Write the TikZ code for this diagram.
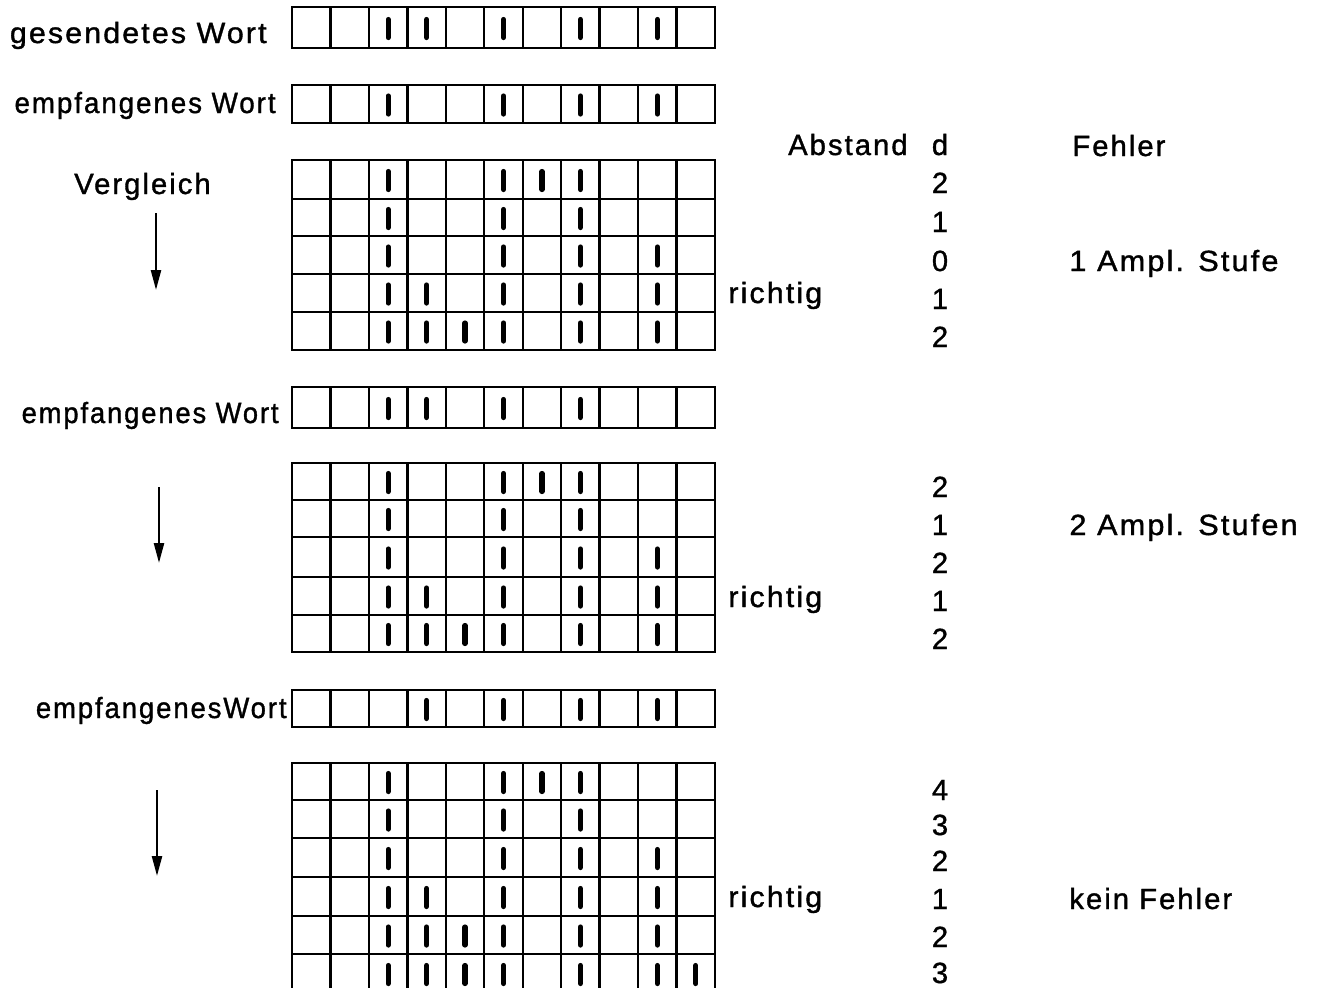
\documentclass[tikz,border=0pt]{standalone}
\usepackage{fontspec}
\usepackage{graphicx}
\setmainfont{Liberation Sans}[LetterSpace=7,FakeBold=1.2]
\usetikzlibrary{arrows.meta}
\newcommand\wrow[3]{%
  \draw[gridline] (292,#1) rectangle (715,#2);
  \foreach \i in {1,...,10} {\draw[gridline] ({292+\i*38.4545},#1) -- ({292+\i*38.4545},#2);}
  \foreach \c in {#3} {\draw[bar] ({292+(\c-0.5)*38.4545},{(#1+#2)/2-8}) -- ({292+(\c-0.5)*38.4545},{(#1+#2)/2+10});}
}
\begin{document}
\begin{tikzpicture}[x=0.5pt,y=-0.5pt,
  gridline/.style={line width=1.15pt},
  bar/.style={line width=2.6pt, line cap=round},
  lbl/.style={inner sep=0pt, font=\fontsize{14.6}{17}\selectfont},
  flow/.style={line width=1.2pt, -{Triangle[width=5pt,length=10pt]}}]
\useasboundingbox (0,0) rectangle (1317,987);
\clip (0,0) rectangle (1317,987);
\fill[white] (0,0) rectangle (1317,987);

% words
\wrow{7}{48}{3,4,6,8,10}
\wrow{85}{123}{3,6,8,10}
% grid 1
\wrow{160}{199}{3,6,7,8}
\wrow{199}{236}{3,6,8}
\wrow{236}{274}{3,6,8,10}
\wrow{274}{312}{3,4,6,8,10}
\wrow{312}{350}{3,4,5,6,8,10}
% second received word
\wrow{387}{428}{3,4,6,8}
% grid 2
\wrow{463}{500}{3,6,7,8}
\wrow{500}{537}{3,6,8}
\wrow{537}{577}{3,6,8,10}
\wrow{577}{615}{3,4,6,8,10}
\wrow{615}{652}{3,4,5,6,8,10}
% third received word
\wrow{690}{727}{4,6,8,10}
% grid 3
\wrow{763}{800}{3,6,7,8}
\wrow{800}{838}{3,6,8}
\wrow{838}{877}{3,6,8,10}
\wrow{877}{916}{3,4,6,8,10}
\wrow{916}{954}{3,4,5,6,8,10}
\wrow{954}{993}{3,4,5,6,8,10,11}

% left labels
\node[lbl, anchor=base east] (sent) at (267,43) {\scalebox{1.04}[1]{gesendetes Wort}};
\node[lbl, anchor=base east] (recv1) at (276,113) {\scalebox{0.95}[1]{empfangenes Wort}};
\node[lbl, anchor=base] (cmp) at (142.5,194) {Vergleich};
\node[lbl, anchor=base east] (recv2) at (279,423) {\scalebox{0.935}[1]{empfangenes Wort}};
\node[lbl, anchor=base east] (recv3) at (287,718) {\scalebox{0.94}[1]{empfangenesWort}};

% arrows
\coordinate (a1s) at (156,213); \coordinate (a1e) at (156,290);
\coordinate (a2s) at (159,487); \coordinate (a2e) at (159,563);
\coordinate (a3s) at (157,790); \coordinate (a3e) at (157,876);
\draw[flow] (a1s) -- (a1e);
\draw[flow] (a2s) -- (a2e);
\draw[flow] (a3s) -- (a3e);

% headings
\node[lbl, anchor=base east] (abst) at (908,155) {Abstand};
\node[lbl, anchor=base] (dhead) at (940,155) {d};
\node[lbl, anchor=base west] (fehler) at (1072,156) {Fehler};

% distances
\foreach \n/\y [count=\k] in {2/193,1/232,0/271,1/309,2/347}
  \node[lbl, anchor=base] (da\k) at (940,\y) {\n};
\foreach \n/\y [count=\k] in {2/497,1/535,2/573,1/611,2/649}
  \node[lbl, anchor=base] (db\k) at (940,\y) {\n};
\foreach \n/\y [count=\k] in {4/800,3/835,2/871,1/909,2/947,3/983}
  \node[lbl, anchor=base] (dc\k) at (940,\y) {\n};

% richtig
\node[lbl, anchor=base west] (ok1) at (728,303) {\scalebox{1.04}[1]{richtig}};
\node[lbl, anchor=base west] (ok2) at (728,607) {\scalebox{1.04}[1]{richtig}};
\node[lbl, anchor=base west] (ok3) at (728,907) {\scalebox{1.04}[1]{richtig}};

% errors
\node[lbl, anchor=base west] (err1) at (1069,271) {\scalebox{1.05}[1]{1 Ampl. Stufe}};
\node[lbl, anchor=base west] (err2) at (1069,535) {\scalebox{1.05}[1]{2 Ampl. Stufen}};
\node[lbl, anchor=base west] (err3) at (1069,909) {kein Fehler};
\end{tikzpicture}
\end{document}
